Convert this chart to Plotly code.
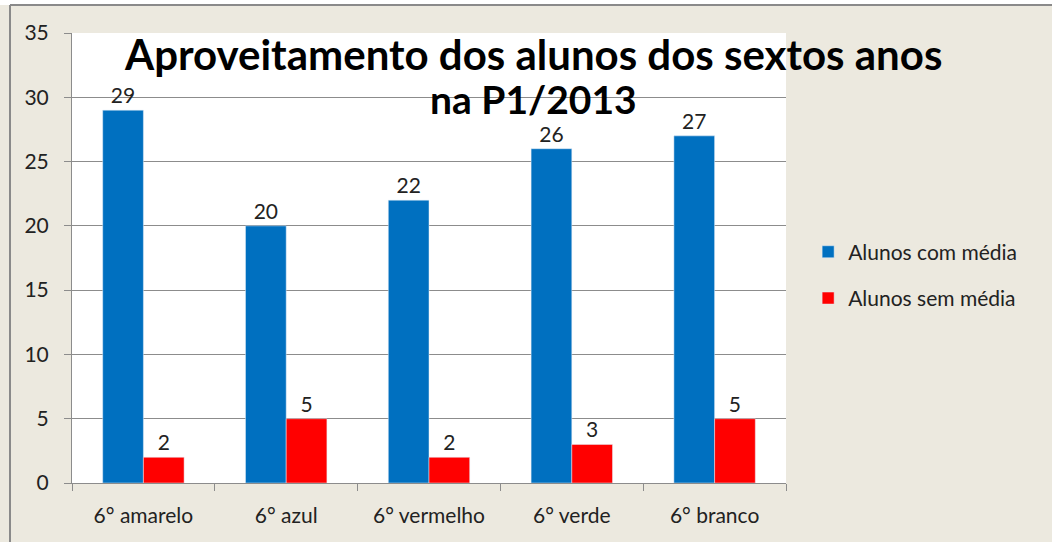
import plotly.graph_objects as go

# Turmas e resultados da P1/2013
turmas = ["6° amarelo", "6° azul", "6° vermelho", "6° verde", "6° branco"]
com_media = [29, 20, 22, 26, 27]
sem_media = [2, 5, 2, 3, 5]
y_ticks = [0, 5, 10, 15, 20, 25, 30, 35]

FONT = "Lato"
BG = "#ECE9DF"
TXT = "#222222"

fig = go.Figure()
fig.add_trace(go.Bar(
    x=turmas, y=com_media, name="Alunos com média",
    marker_color="#0070C0", legendgroup="a",
    text=com_media, textposition="outside", cliponaxis=False,
    textfont=dict(size=21, color=TXT, family=FONT),
))
fig.add_trace(go.Bar(
    x=turmas, y=sem_media, name="Alunos sem média",
    marker_color="#FF0000", legendgroup="b",
    text=sem_media, textposition="outside", cliponaxis=False,
    textfont=dict(size=21, color=TXT, family=FONT),
))

fig.update_layout(
    width=1052, height=542,
    margin=dict(l=72, r=266, t=33, b=59),
    paper_bgcolor=BG, plot_bgcolor="white",
    barmode="group", bargap=0.43, bargroupgap=0,
    font=dict(family=FONT, size=21, color=TXT),
    showlegend=True,
    legend=dict(
        x=1.031, y=0.462, xanchor="left", yanchor="middle",
        bgcolor="rgba(0,0,0,0)", font=dict(size=21, family=FONT, color=TXT),
        tracegroupgap=16, itemwidth=30,
    ),
)

fig.update_xaxes(
    type="category", showline=True, linecolor="#8c8c8c", linewidth=1,
    ticks="outside", tickson="boundaries", ticklen=7, tickcolor="#8c8c8c",
    tickfont=dict(size=21, family=FONT, color=TXT),
    ticklabelstandoff=14, showgrid=False,
)
fig.update_yaxes(
    range=[0, 35], tickvals=y_ticks, showline=True, linecolor="#8c8c8c",
    ticks="outside", ticklen=7, tickcolor="#8c8c8c",
    showgrid=True, gridcolor="#8c8c8c", gridwidth=1,
    tickfont=dict(size=21, family=FONT, color=TXT), zeroline=False,
    ticklabelstandoff=11,
)

# Título em duas linhas sobre a área do gráfico
fig.add_annotation(
    text="<b>Aproveitamento dos alunos dos sextos anos</b>",
    xref="paper", yref="paper", x=0.6457, y=(483 - 54) / 450,
    xanchor="center", yanchor="middle", showarrow=False,
    font=dict(size=42, family=FONT, color="black"),
)
fig.add_annotation(
    text="<b>na P1/2013</b>",
    xref="paper", yref="paper", x=0.6457, y=(483 - 99) / 450,
    xanchor="center", yanchor="middle", showarrow=False,
    font=dict(size=39, family=FONT, color="black"),
)

# Moldura: faixa branca superior e bordas
fig.add_shape(type="rect", xref="paper", yref="paper",
              x0=-72 / 714, x1=(1052 - 72) / 714,
              y0=(483 - 5) / 450, y1=483 / 450,
              fillcolor="white", line_width=0, layer="below")
fig.add_shape(type="line", xref="paper", yref="paper",
              x0=(10 - 72) / 714, x1=(1052 - 72) / 714,
              y0=(483 - 5) / 450, y1=(483 - 5) / 450,
              line=dict(color="#8a8a8a", width=2))
fig.add_shape(type="line", xref="paper", yref="paper",
              x0=(10 - 72) / 714, x1=(10 - 72) / 714,
              y0=(483 - 5) / 450, y1=-59 / 450,
              line=dict(color="#8a8a8a", width=2))

fig.write_html("out.html")
